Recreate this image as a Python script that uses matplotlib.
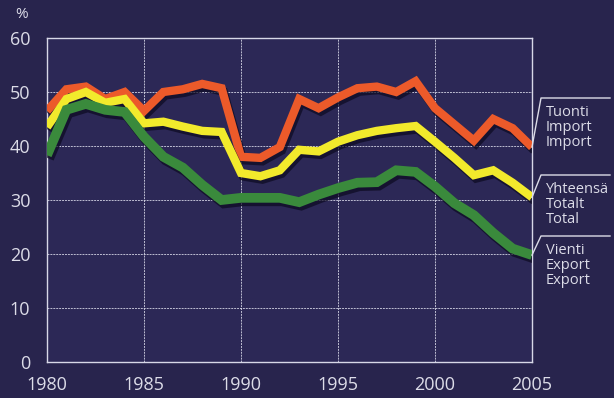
import matplotlib
matplotlib.use("Agg")
import matplotlib.pyplot as plt
import matplotlib.patheffects as pe

years = list(range(1980, 2006))
import_share = [46.5, 50.5, 51.0, 48.7, 50.0, 46.5, 50.0, 50.5, 51.5, 50.7,
                38.0, 37.8, 39.8, 48.7, 47.0, 49.0, 50.7, 51.0, 50.0, 52.0,
                47.0, 44.0, 41.0, 45.0, 43.3, 39.8]
total_share = [43.5, 48.7, 50.0, 48.0, 48.7, 44.2, 44.5, 43.6, 42.8, 42.6,
               35.0, 34.4, 35.5, 39.3, 39.0, 40.8, 42.0, 42.8, 43.3, 43.7,
               40.8, 37.8, 34.6, 35.5, 33.2, 30.5]
export_share = [38.3, 46.7, 47.8, 46.7, 46.3, 41.7, 38.0, 36.0, 32.8, 30.0,
                30.4, 30.4, 30.4, 29.6, 31.0, 32.2, 33.2, 33.3, 35.5, 35.2,
                32.5, 29.4, 27.2, 23.9, 21.0, 19.8]

series_labels = ["Tuonti\nImport\nImport", "Yhteensä\nTotalt\nTotal", "Vienti\nExport\nExport"]
x_ticks = [1980, 1985, 1990, 1995, 2000, 2005]
y_ticks = [0, 10, 20, 30, 40, 50, 60]

bg = "#28244d"
plot_bg = "#2c2856"
txt = "#dcdce8"
colors = ["#ec5a2a", "#f2ea2c", "#3a8a3c"]

plt.rcParams['font.family'] = ['Open Sans', 'DejaVu Sans']

fig = plt.figure(figsize=(6.14, 3.98), dpi=100, facecolor=bg)
ax = fig.add_axes([47 / 614, 1 - 362 / 398, (532 - 47) / 614, (362 - 38) / 398])
ax.set_facecolor(plot_bg)

shadow = [pe.SimpleLineShadow(offset=(1.5, -2.5), shadow_color="#0c0a20", alpha=0.7),
          pe.Normal()]
for vals, col, lw in zip([import_share, total_share, export_share], colors, [6.0, 6.0, 7.0]):
    ax.plot(years, vals, color=col, lw=lw, solid_joinstyle="miter",
            solid_capstyle="butt", path_effects=shadow, zorder=3)

ax.set_xlim(1980, 2005)
ax.set_ylim(0, 60)
ax.set_xticks(x_ticks)
ax.set_yticks(y_ticks)
ax.grid(True, color="#d8d8e8", lw=0.7, ls=(0, (2, 1)), alpha=0.85)
ax.set_axisbelow(True)
for s in ax.spines.values():
    s.set_color("#d8d8e8")
    s.set_linewidth(1.0)
ax.tick_params(length=0, colors=txt, labelsize=13)
ax.tick_params(axis="y", pad=12)
ax.tick_params(axis="x", pad=10)

fig.text(22 / 614, 1 - 14 / 398, "%", color=txt, fontsize=11, ha="center", va="center")

# Series labels with leader lines to the right of the plot
ends = [import_share[-1], total_share[-1], export_share[-1]]
anchors_px = [98, 175, 236]
for lab, yv, ap in zip(series_labels, ends, anchors_px):
    x0, y0 = fig.transFigure.inverted().transform(ax.transData.transform((2005, yv)))
    ya = 1 - ap / 398
    fig.add_artist(plt.Line2D([x0, 541 / 614, 610 / 614], [y0, ya, ya],
                              color=txt, lw=1.0, transform=fig.transFigure))
    fig.text(546 / 614, ya - 7 / 398, lab, color=txt, fontsize=10.5,
             ha="left", va="top", linespacing=1.0)

fig.savefig("out.png", dpi=100, facecolor=bg)
